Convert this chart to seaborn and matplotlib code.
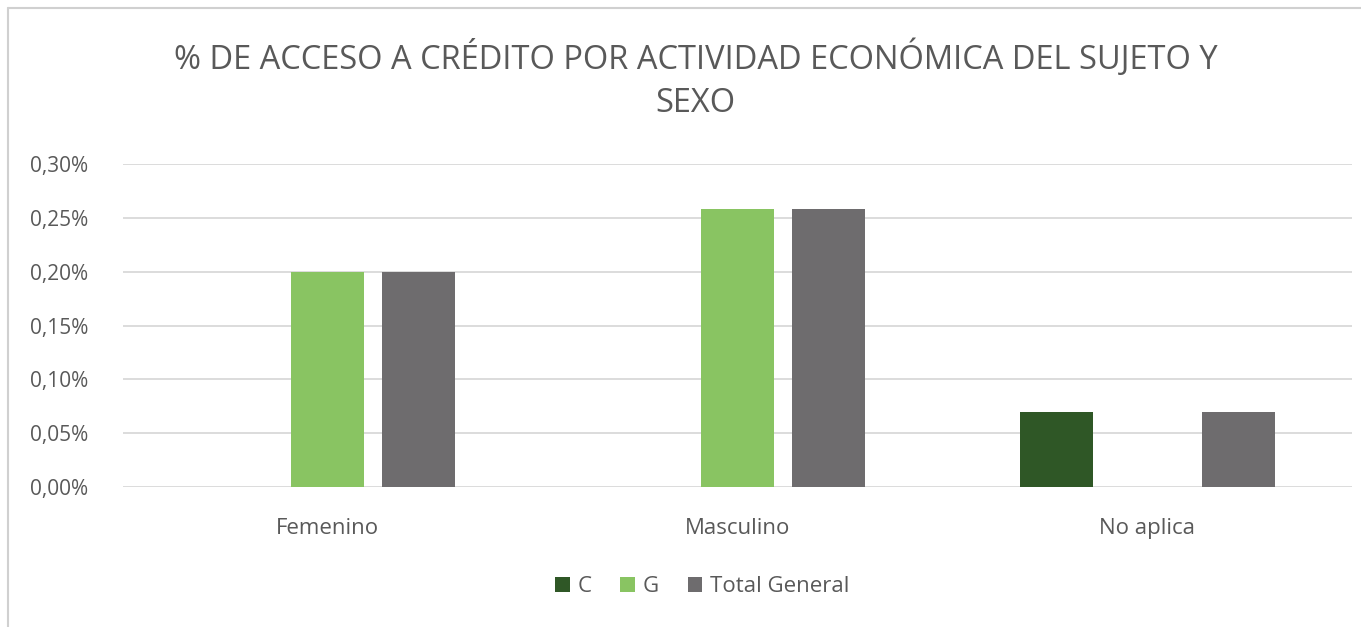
import numpy as np
import pandas as pd
import matplotlib
matplotlib.use("Agg")
import matplotlib.pyplot as plt
import seaborn as sns
from matplotlib.ticker import FuncFormatter
from matplotlib.patches import Patch
from matplotlib.lines import Line2D

# ====== Data (values in %) ======
categories = ["Femenino", "Masculino", "No aplica"]
series = ["C", "G", "Total General"]
c_vals = [np.nan, np.nan, 0.07]
g_vals = [0.20, 0.258, np.nan]
total_vals = [0.20, 0.258, 0.07]
colors = ["#2F5726", "#89C462", "#6E6C6E"]

df = pd.DataFrame({
    "Sexo": categories * 3,
    "Serie": [s for s in series for _ in categories],
    "Valor": c_vals + g_vals + total_vals,
})

sns.set_style("white")
plt.rcParams["font.family"] = ["Open Sans", "DejaVu Sans"]

fig = plt.figure(figsize=(13.61, 6.27), dpi=100)
ax = fig.add_axes([0.0904, 0.2233, 0.9030, 0.5151])

sns.barplot(data=df, x="Sexo", y="Valor", hue="Serie", order=categories,
            hue_order=series, palette=colors, saturation=1, width=0.666, gap=0.2,
            linewidth=0, legend=False, ax=ax)

ax.set_ylim(0, 0.30)
ax.set_yticks([0, 0.05, 0.10, 0.15, 0.20, 0.25, 0.30])
ax.yaxis.set_major_formatter(FuncFormatter(lambda v, p: f"{v:.2f}%".replace(".", ",")))
ax.yaxis.grid(True, color="#D9D9D9", linewidth=1.3)
ax.set_axisbelow(True)
for sp in ax.spines.values():
    sp.set_visible(False)
ax.tick_params(axis="both", length=0, colors="#595959")
ax.tick_params(axis="x", pad=22, labelsize=16)
ax.tick_params(axis="y", pad=25, labelsize=15)
ax.set_xlabel("")
ax.set_ylabel("")
ax.set_xlim(-0.5, 2.5)

fig.text(0.511, 0.873, "% DE ACCESO A CRÉDITO POR ACTIVIDAD ECONÓMICA DEL SUJETO Y\nSEXO",
         ha="center", va="center", fontsize=23.5, color="#595959",
         linespacing=1.4)

handles = [Patch(facecolor=c, edgecolor="none") for c in colors]
fig.legend(handles, series, loc="center", bbox_to_anchor=(0.516, 0.064), ncol=3,
           frameon=False, fontsize=16, handlelength=0.65, handleheight=0.65,
           handletextpad=0.35, columnspacing=1.3, labelcolor="#595959")

# chart border (top and left, as cropped in the screenshot)
fig.add_artist(Line2D([8 / 1361, 1], [1 - 8 / 627, 1 - 8 / 627], transform=fig.transFigure,
                      color="#D0D0D0", linewidth=1.5))
fig.add_artist(Line2D([8 / 1361, 8 / 1361], [0, 1 - 8 / 627], transform=fig.transFigure,
                      color="#D0D0D0", linewidth=1.5))

fig.savefig("out.png", dpi=100, facecolor="white")
